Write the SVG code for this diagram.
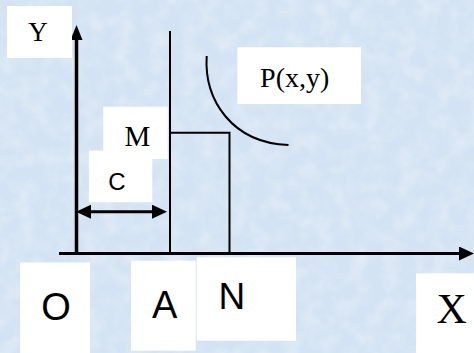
<svg xmlns="http://www.w3.org/2000/svg" width="474" height="353" viewBox="0 0 474 353">
<defs>
<style>
.box{fill:#ffffff}
.ser{font-family:"Liberation Serif","Times New Roman",serif;fill:#000}
.san{font-family:"Liberation Sans",Arial,sans-serif;fill:#000}
.ln{stroke:#000;fill:none}
</style>
<filter id="tex" x="0" y="0" width="100%" height="100%">
<feTurbulence type="fractalNoise" baseFrequency="0.06" numOctaves="3" seed="4" result="n"/>
<feColorMatrix in="n" type="matrix" values="0 0 0 0 1  0 0 0 0 1  0 0 0 0 1  0 0 0 0.55 -0.2" result="w"/>
<feComposite in="w" in2="SourceGraphic" operator="in"/>
</filter>
<marker id="ah" viewBox="0 0 15 14" refX="0" refY="7" markerWidth="15" markerHeight="14" markerUnits="userSpaceOnUse" orient="auto-start-reverse">
<path d="M0,0 L15,7 L0,14 z" fill="#000"/>
</marker>
<marker id="ahy" viewBox="0 0 15 12" refX="0" refY="6" markerWidth="15" markerHeight="12" markerUnits="userSpaceOnUse" orient="auto">
<path d="M0,0 L15,6 L0,12 z" fill="#000"/>
</marker>
</defs>
<rect width="474" height="353" fill="#d3e3f3"/>
<rect width="474" height="353" fill="#d3e3f3" filter="url(#tex)"/>
<g id="connectors">
<line class="ln" x1="76.5" y1="254" x2="76.5" y2="40" stroke-width="3.5" marker-end="url(#ahy)"/>
<line class="ln" x1="59" y1="253.5" x2="459" y2="253.5" stroke-width="3" marker-end="url(#ah)"/>
<line class="ln" x1="170" y1="31" x2="170" y2="253" stroke-width="2"/>
<polyline class="ln" points="170,132.7 229.5,132.7 229.5,253" stroke-width="2"/>
<line class="ln" x1="91" y1="211.7" x2="152" y2="211.7" stroke-width="3" marker-start="url(#ah)" marker-end="url(#ah)"/>
<path class="ln" d="M206.7,56 C204,100 232,143 288.5,145" stroke-width="2"/>
</g>
<g id="node-Y"><rect class="box" x="7" y="6" width="65" height="52"/><text class="ser" x="38" y="41" font-size="27" text-anchor="middle">Y</text></g>
<g id="node-P"><rect class="box" x="237.3" y="47.3" width="123.7" height="56.7"/><text class="ser" x="294.7" y="86.7" font-size="28" text-anchor="middle">P(x,y)</text></g>
<g id="node-M"><rect class="box" x="103.3" y="106.7" width="64.4" height="52.3"/><text class="ser" x="137.5" y="146" font-size="29" text-anchor="middle">M</text></g>
<g id="node-C"><rect class="box" x="89" y="150.7" width="63.3" height="51.6"/><text class="san" x="117" y="190" font-size="24" text-anchor="middle">C</text></g>
<g id="node-O"><rect class="box" x="20" y="262.5" width="70" height="90.5"/><text class="san" x="56" y="319.5" font-size="38" text-anchor="middle">O</text></g>
<g id="node-A"><rect class="box" x="131" y="260.7" width="64.7" height="90"/><text class="san" x="164.7" y="318.3" font-size="38" text-anchor="middle">A</text></g>
<g id="node-N"><rect class="box" x="196.7" y="257.3" width="99.3" height="83.4"/><text class="san" x="231.8" y="309.3" font-size="37" text-anchor="middle">N</text></g>
<g id="node-X"><rect class="box" x="416" y="273.3" width="58" height="79.7"/><text class="ser" x="451.7" y="322.7" font-size="42" text-anchor="middle">X</text></g>
</svg>
